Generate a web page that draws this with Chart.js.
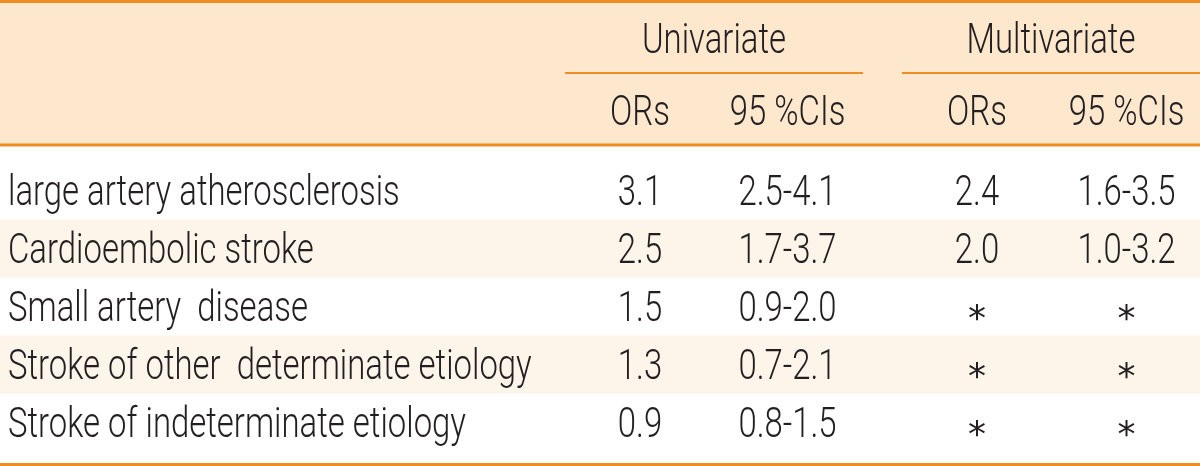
<!DOCTYPE html>
<html><head><meta charset="utf-8">
<script src="https://cdn.jsdelivr.net/npm/chart.js@4.4.0/dist/chart.umd.min.js"></script>
<style>html,body{margin:0;padding:0;background:#fff}#wrap{width:1200px;height:466px;position:relative}</style>
</head><body><div id="wrap"><canvas id="c"></canvas></div>
<script>
// ---- data ----
const categories = ['large artery atherosclerosis', 'Cardioembolic stroke', 'Small artery  disease', 'Stroke of other  determinate etiology', 'Stroke of indeterminate etiology'];
const groupLabels = ['Univariate', 'Multivariate'];
const columnLabels = ['ORs', '95 %CIs', 'ORs', '95 %CIs'];
const uniOR = [3.1, 2.5, 1.5, 1.3, 0.9];
const uniCI = [[2.5, 4.1], [1.7, 3.7], [0.9, 2.0], [0.7, 2.1], [0.8, 1.5]];
const multiOR = [2.4, 2.0, null, null, null];
const multiCI = [[1.6, 3.5], [1.0, 3.2], null, null, null];
const missingMark = '*';

// ---- layout (scale units) ----
const COL_X = [640, 787.5, 977, 1126.5];
const LABEL_X = 8;
const GROUP_SPAN = [[565, 863], [902, 1200]];
const Y = { min: -3.2845, max: 4.75, groupTitle: -2.62, subHeader: -1.38, topRule: -3.259, groupRule: -2.026, headRule: -0.785, bottomRule: 4.724 };
const SHADED = [1, 3];

const ORANGE = '#ef8d23';
const HEAD_BG = '#fde7cd';
const ROW_BG = '#fdf4ea';
const TEXT = '#231f20';
const FONT = '300 42px Roboto, "Liberation Sans Narrow", "Liberation Sans", sans-serif';
const STAR_FONT = '36px "DejaVu Sans", sans-serif';

const fmt = v => v.toFixed(1);
const fmtCI = p => fmt(p[0]) + '-' + fmt(p[1]);

const tablePlugin = {
  id: 'table',
  afterDraw(chart) {
    const ctx = chart.ctx, xs = chart.scales.x, ys = chart.scales.y;
    const px = v => xs.getPixelForValue(v), py = v => ys.getPixelForValue(v);
    ctx.save();
    ctx.font = FONT;
    const SX = 458 / ctx.measureText('Stroke of indeterminate etiology').width;
    // header background
    ctx.fillStyle = HEAD_BG;
    ctx.fillRect(px(0), py(Y.min), px(1200) - px(0), py(Y.headRule) - py(Y.min));
    // shaded rows
    ctx.fillStyle = ROW_BG;
    SHADED.forEach(r => ctx.fillRect(px(0), py(r - 0.5), px(1200) - px(0), py(r + 0.5) - py(r - 0.5)));
    // rules
    ctx.fillStyle = ORANGE;
    const hrule = (y, x0, x1, w) => { const c = py(y); ctx.fillRect(px(x0), c - w / 2, px(x1) - px(x0), w); };
    hrule(Y.topRule, 0, 1200, 3);
    hrule(Y.headRule, 0, 1200, 3);
    hrule(Y.bottomRule, 0, 1200, 3);
    GROUP_SPAN.forEach(s => hrule(Y.groupRule, s[0], s[1], 2));
    // text
    ctx.fillStyle = TEXT;
    const capHalf = 14.5;
    const text = (s, x, yv, align) => {
      ctx.save();
      ctx.font = FONT;
      ctx.translate(px(x), py(yv) + capHalf);
      ctx.scale(SX, 1);
      ctx.textAlign = align; ctx.textBaseline = 'alphabetic';
      ctx.fillText(s, 0, 0);
      ctx.restore();
    };
    const star = (x, yv) => {
      ctx.save();
      ctx.font = STAR_FONT;
      const m = ctx.measureText(missingMark);
      const cy = py(yv) + 6;
      const base = cy + (m.actualBoundingBoxAscent - m.actualBoundingBoxDescent) / 2;
      ctx.translate(px(x), base);
      ctx.textAlign = 'center'; ctx.textBaseline = 'alphabetic';
      ctx.fillText(missingMark, 0, 0);
      ctx.restore();
    };
    GROUP_SPAN.forEach((s, i) => text(groupLabels[i], (s[0] + s[1]) / 2, Y.groupTitle, 'center'));
    columnLabels.forEach((l, i) => text(l, COL_X[i], Y.subHeader, 'center'));
    categories.forEach((c, r) => {
      text(c, LABEL_X, r, 'left');
      text(fmt(uniOR[r]), COL_X[0], r, 'center');
      text(fmtCI(uniCI[r]), COL_X[1], r, 'center');
      if (multiOR[r] == null) star(COL_X[2], r); else text(fmt(multiOR[r]), COL_X[2], r, 'center');
      if (multiCI[r] == null) star(COL_X[3], r); else text(fmtCI(multiCI[r]), COL_X[3], r, 'center');
    });
    ctx.restore();
  }
};

new Chart(document.getElementById('c'), {
  type: 'scatter',
  data: { datasets: [] },
  options: {
    responsive: true, maintainAspectRatio: false, animation: false,
    layout: { padding: 0 },
    plugins: { legend: { display: false }, tooltip: { enabled: false } },
    scales: {
      x: { type: 'linear', min: 0, max: 1200, display: false },
      y: { type: 'linear', min: Y.min, max: Y.max, reverse: true, display: false }
    }
  },
  plugins: [tablePlugin]
});
</script></body></html>
